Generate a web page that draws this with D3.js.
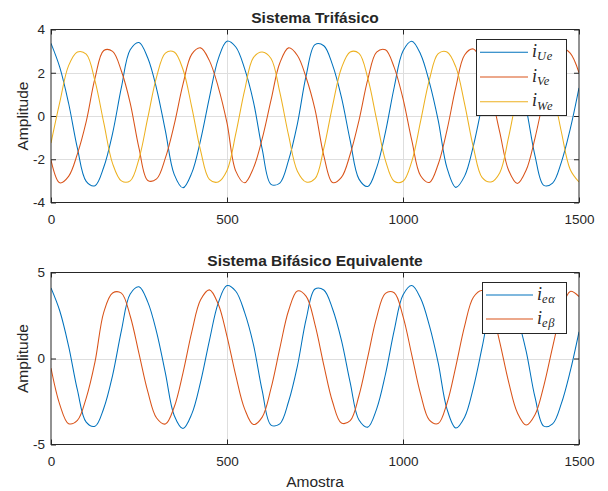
<head>
  <meta charset="UTF-8">
  <title>Sistema Trifásico / Bifásico</title>
  <script src="https://d3js.org/d3.v7.min.js"></script>
  <style>
    body { margin:0; background:#fff; }
    text { font-family: "Liberation Sans", Arial, sans-serif; fill:#262626; }
    .leg text { font-family: "Liberation Serif", "DejaVu Serif", serif; font-style: italic; }
  </style>
</head>
<body>
  <div id="chart"></div>
  <script>

    // Sample index (x axis), one value every 25 samples
    const amostra = d3.range(0, 1501, 25);

    // Sistema Trifásico
    const iUe = [3.36, 2.25, 0.59, -1.49, -3.02, -3.22, -2.36, -0.80, 1.32, 3.06,
                 3.40, 2.68, 1.26, -0.69, -2.70, -3.32, -2.63, -1.11, 0.85, 2.63,
                 3.46, 3.19, 2.19, 0.67, -1.53, -3.16, -3.10, -2.04, -0.36, 1.88,
                 3.30, 3.25, 2.35, 0.87, -1.14, -2.92, -3.26, -2.40, -0.76, 1.33,
                 3.01, 3.46, 2.86, 1.56, -0.20, -2.40, -3.30, -2.78, -1.38, 0.55,
                 2.55, 3.42, 3.06, 1.94, 0.34, -1.84, -3.21, -3.10, -2.13, -0.61,
                 1.30];
    const iVe = [-2.04, -3.09, -2.79, -1.75, -0.26, 1.75, 3.03, 2.99, 2.08, 0.60,
                 -1.49, -2.98, -2.91, -1.94, -0.40, 1.47, 2.86, 3.15, 2.56, 1.35,
                 -0.32, -2.55, -3.09, -2.41, -1.05, 0.73, 2.45, 3.15, 2.80, 1.77,
                 0.31, -1.83, -3.08, -2.84, -1.77, -0.20, 1.69, 2.95, 3.06, 2.25,
                 0.80, -1.13, -2.76, -3.07, -2.23, -0.65, 1.32, 2.82, 3.10, 2.41,
                 1.05, -0.76, -2.51, -3.12, -2.50, -1.02, 0.82, 2.38, 3.13, 2.91,
                 2.00];
    const iWe = [-1.25, 0.64, 2.33, 2.96, 2.86, 1.62, -0.32, -2.20, -3.00, -3.00,
                 -1.98, -0.08, 1.81, 2.91, 2.96, 2.15, 0.40, -1.60, -2.93, -3.05,
                 -2.52, -0.82, 1.18, 2.70, 2.96, 2.66, 1.10, -0.90, -2.55, -3.05,
                 -2.90, -1.50, 0.48, 2.21, 2.96, 2.90, 1.75, -0.16, -2.05, -3.02,
                 -3.02, -2.10, -0.24, 1.68, 2.88, 2.96, 2.27, 0.56, -1.45, -2.85,
                 -3.05, -2.62, -0.98, 1.03, 2.60, 2.96, 2.73, 1.25, -0.74, -2.47,
                 -3.05];

    // Sistema Bifásico Equivalente
    const iEalpha = [4.10, 2.76, 0.72, -1.83, -3.70, -3.94, -2.89, -0.98, 1.62, 3.75,
                     4.17, 3.28, 1.54, -0.85, -3.31, -4.07, -3.22, -1.36, 1.04, 3.22,
                     4.24, 3.91, 2.68, 0.82, -1.87, -3.87, -3.80, -2.50, -0.44, 2.30,
                     4.04, 3.98, 2.88, 1.07, -1.40, -3.58, -3.99, -2.94, -0.93, 1.63,
                     3.69, 4.24, 3.50, 1.91, -0.25, -2.94, -4.04, -3.41, -1.69, 0.67,
                     3.12, 4.19, 3.75, 2.38, 0.42, -2.25, -3.93, -3.80, -2.61, -0.75,
                     1.55];
    const iEbeta = [-0.56, -2.68, -3.79, -3.60, -2.30, -0.20, 2.70, 3.81, 3.80, 2.47,
                    0.28, -1.93, -3.46, -3.81, -2.82, -0.83, 1.55, 3.41, 3.99, 3.17,
                    1.29, -1.00, -2.93, -3.84, -3.41, -1.74, 0.59, 2.79, 3.93, 3.61,
                    1.97, -0.38, -2.53, -3.75, -3.61, -2.15, 0.10, 2.38, 3.79, 3.82,
                    2.45, 0.20, -2.07, -3.58, -3.78, -2.60, -0.47, 1.88, 3.56, 3.95,
                    2.95, 0.94, -1.36, -3.16, -3.87, -3.27, -1.59, 0.66, 2.75, 3.90,
                    3.60];

    // Ticks
    const xTicks = [0, 500, 1000, 1500];
    const yTicksTop = [-4, -2, 0, 2, 4];
    const yTicksBot = [-5, 0, 5];

    const colors = ["#0072BD", "#D95319", "#EDB120"];

    const W = 608, H = 491;
    const svg = d3.select("#chart").append("svg")
          .attr("width", W).attr("height", H);

    const plain = d => String(d);   // "1000", "-4" (no comma, no unicode minus)

    // one subplot
    function panel(cfg){
	const left = 51, right = 579;
	const x = d3.scaleLinear().domain([0, 1500]).range([left, right]);
	const y = d3.scaleLinear().domain(cfg.ydom).range([cfg.bottom, cfg.top]);
	const g = svg.append("g");

	// grid
	g.selectAll(".gx").data(xTicks.slice(1, -1)).join("line")
	    .attr("x1", d => Math.round(x(d)) + 0.5).attr("x2", d => Math.round(x(d)) + 0.5)
	    .attr("y1", cfg.top).attr("y2", cfg.bottom)
	    .attr("stroke", "#dedede").attr("stroke-width", 1);
	g.selectAll(".gy").data(cfg.yticks.slice(1, -1)).join("line")
	    .attr("y1", d => Math.round(y(d)) + 0.5).attr("y2", d => Math.round(y(d)) + 0.5)
	    .attr("x1", left).attr("x2", right)
	    .attr("stroke", "#dedede").attr("stroke-width", 1);

	// curves
	const clipId = "clip" + cfg.id;
	g.append("clipPath").attr("id", clipId).append("rect")
	    .attr("x", left).attr("y", cfg.top).attr("width", right - left).attr("height", cfg.bottom - cfg.top);
	const line = d3.line()
	      .x((d, i) => x(amostra[i]))
	      .y(d => y(d))
	      .curve(d3.curveCatmullRom);
	cfg.series.forEach((s, k) => {
	    g.append("path")
		.attr("d", line(s))
		.attr("fill", "none")
		.attr("stroke", colors[k])
		.attr("stroke-width", 1.05)
		.attr("clip-path", `url(#${clipId})`);
	});

	// axes (ticks pointing inward, mirrored on top/right)
	const bottomAx = g.append("g").attr("transform", `translate(0,${cfg.bottom})`)
	      .call(d3.axisBottom(x).tickValues(xTicks).tickFormat(plain)
		    .tickSizeInner(-5).tickSizeOuter(0).tickPadding(12));
	const leftAx = g.append("g").attr("transform", `translate(${left},0)`)
	      .call(d3.axisLeft(y).tickValues(cfg.yticks).tickFormat(plain)
		    .tickSizeInner(-5).tickSizeOuter(0).tickPadding(6));
	const topAx = g.append("g").attr("transform", `translate(0,${cfg.top})`)
	      .call(d3.axisTop(x).tickValues(xTicks).tickSizeInner(-5).tickSizeOuter(0).tickFormat(""));
	const rightAx = g.append("g").attr("transform", `translate(${right},0)`)
	      .call(d3.axisRight(y).tickValues(cfg.yticks).tickSizeInner(-5).tickSizeOuter(0).tickFormat(""));
	[bottomAx, leftAx, topAx, rightAx].forEach(a => {
	    a.select(".domain").remove();
	    a.selectAll("line").attr("stroke", "#262626");
	    a.selectAll("text").attr("font-size", 13.5)
		.attr("font-family", "Liberation Sans, Arial, sans-serif").attr("fill", "#262626");
	});

	// box
	g.append("rect")
	    .attr("x", left).attr("y", cfg.top)
	    .attr("width", right - left).attr("height", cfg.bottom - cfg.top)
	    .attr("fill", "none").attr("stroke", "#262626").attr("stroke-width", 1);

	// title and y label
	g.append("text").attr("x", (left + right) / 2).attr("y", cfg.top - 6.5)
	    .attr("text-anchor", "middle").attr("font-size", 15.5).attr("font-weight", "bold")
	    .text(cfg.title);
	g.append("text")
	    .attr("transform", `translate(27.5,${(cfg.top + cfg.bottom) / 2}) rotate(-90)`)
	    .attr("text-anchor", "middle").attr("font-size", 15.5)
	    .text("Amplitude");

	// legend
	const L = cfg.legend;
	const lg = g.append("g").attr("class", "leg");
	lg.append("rect").attr("x", L.x0 + 0.5).attr("y", L.y0 + 0.5)
	    .attr("width", L.x1 - L.x0).attr("height", L.y1 - L.y0)
	    .attr("fill", "#fff").attr("stroke", "#262626").attr("stroke-width", 1);
	L.labels.forEach((lab, k) => {
	    const yy = L.y0 + L.first + k * L.step;
	    lg.append("line").attr("x1", L.lx0).attr("x2", L.lx1)
		.attr("y1", yy).attr("y2", yy)
		.attr("stroke", colors[k]).attr("stroke-width", 1.05);
	    const t = lg.append("text").attr("x", L.tx).attr("y", yy + 4.5).attr("font-size", 18);
	    t.append("tspan").text("i");
	    t.append("tspan").attr("dy", 3.5).attr("font-size", 12.5)
		.attr("letter-spacing", 0.6).text(lab);
	});
    }

    panel({ id: 1, top: 29.5, bottom: 202.5, ydom: [-4, 4], yticks: yTicksTop,
	    title: "Sistema Trifásico", series: [iUe, iVe, iWe],
	    legend: { x0: 476, x1: 566, y0: 39, y1: 115, first: 13.3, step: 24.7,
		      lx0: 480, lx1: 528, tx: 532, labels: ["Ue", "Ve", "We"] } });

    panel({ id: 2, top: 272.5, bottom: 444.5, ydom: [-5, 5], yticks: yTicksBot,
	    title: "Sistema Bifásico Equivalente", series: [iEalpha, iEbeta],
	    legend: { x0: 482, x1: 566, y0: 282, y1: 333, first: 13, step: 24,
		      lx0: 486, lx1: 533, tx: 537, labels: ["eα", "eβ"] } });

    // x label
    svg.append("text").attr("x", 315).attr("y", 486.5)
	.attr("text-anchor", "middle").attr("font-size", 15.5)
	.text("Amostra");

  </script>
</body>
